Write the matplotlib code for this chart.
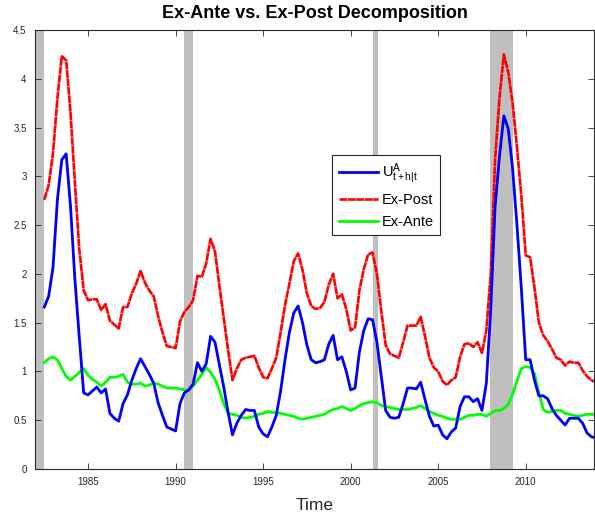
import numpy as np
import matplotlib
matplotlib.use("Agg")
import matplotlib.pyplot as plt

plt.rcParams['font.family'] = ['Liberation Sans', 'DejaVu Sans']
plt.rcParams['mathtext.fontset'] = 'custom'
plt.rcParams['mathtext.rm'] = 'Liberation Sans'
plt.rcParams['mathtext.it'] = 'Liberation Sans'

# quarterly sample, 1982Q3 onward
START_YEAR = 1982.5

ex_post = [2.76, 2.91, 3.24, 3.80, 4.23, 4.19, 3.65, 2.93, 2.25, 1.83,
           1.73, 1.74, 1.74, 1.63, 1.69, 1.52, 1.48, 1.44, 1.66, 1.66,
           1.80, 1.90, 2.03, 1.91, 1.83, 1.77, 1.57, 1.40, 1.26, 1.25,
           1.24, 1.51, 1.61, 1.66, 1.73, 1.98, 1.97, 2.11, 2.36, 2.23,
           1.88, 1.55, 1.22, 0.91, 1.03, 1.12, 1.14, 1.15, 1.16, 1.04,
           0.94, 0.93, 1.03, 1.14, 1.40, 1.68, 1.90, 2.13, 2.21, 2.04,
           1.80, 1.67, 1.64, 1.65, 1.71, 1.89, 2.00, 1.75, 1.79, 1.64,
           1.42, 1.45, 1.83, 2.05, 2.20, 2.22, 2.00, 1.62, 1.27, 1.18,
           1.16, 1.14, 1.30, 1.47, 1.47, 1.47, 1.56, 1.36, 1.14, 1.04,
           1.00, 0.90, 0.86, 0.91, 0.94, 1.15, 1.28, 1.29, 1.25, 1.30,
           1.19, 1.42, 2.00, 3.17, 3.80, 4.25, 4.07, 3.75, 3.30, 2.80,
           2.19, 2.17, 1.86, 1.50, 1.37, 1.31, 1.23, 1.14, 1.12, 1.06,
           1.10, 1.09, 1.09, 1.01, 0.95, 0.91, 0.89]

u_total = [1.66, 1.77, 2.07, 2.76, 3.17, 3.23, 2.69, 1.94, 1.35, 0.78,
           0.76, 0.80, 0.84, 0.78, 0.82, 0.57, 0.52, 0.49, 0.67, 0.76,
           0.91, 1.03, 1.13, 1.05, 0.97, 0.88, 0.68, 0.55, 0.43, 0.41,
           0.39, 0.67, 0.78, 0.81, 0.87, 1.09, 1.00, 1.08, 1.36, 1.30,
           1.07, 0.84, 0.58, 0.35, 0.47, 0.55, 0.61, 0.60, 0.60, 0.43,
           0.36, 0.33, 0.43, 0.55, 0.80, 1.12, 1.40, 1.60, 1.67, 1.50,
           1.27, 1.12, 1.09, 1.10, 1.12, 1.28, 1.37, 1.12, 1.15, 1.00,
           0.81, 0.83, 1.20, 1.42, 1.54, 1.53, 1.30, 0.95, 0.60, 0.53,
           0.52, 0.53, 0.67, 0.83, 0.83, 0.82, 0.89, 0.71, 0.54, 0.44,
           0.45, 0.35, 0.31, 0.38, 0.42, 0.64, 0.74, 0.74, 0.69, 0.72,
           0.60, 0.88, 1.63, 2.69, 3.20, 3.62, 3.49, 3.08, 2.50, 1.85,
           1.12, 1.12, 0.91, 0.75, 0.75, 0.72, 0.62, 0.55, 0.50, 0.45,
           0.52, 0.52, 0.52, 0.47, 0.37, 0.33, 0.32]

ex_ante = [1.09, 1.13, 1.15, 1.12, 1.03, 0.95, 0.91, 0.95, 0.99, 1.03,
           0.96, 0.92, 0.89, 0.85, 0.89, 0.94, 0.94, 0.95, 0.97, 0.89,
           0.87, 0.87, 0.88, 0.85, 0.86, 0.88, 0.87, 0.85, 0.83, 0.83,
           0.83, 0.82, 0.81, 0.81, 0.85, 0.91, 0.97, 1.04, 0.99, 0.92,
           0.81, 0.67, 0.57, 0.56, 0.55, 0.53, 0.52, 0.53, 0.54, 0.56,
           0.57, 0.59, 0.58, 0.58, 0.57, 0.56, 0.55, 0.54, 0.52, 0.51,
           0.52, 0.53, 0.54, 0.55, 0.56, 0.59, 0.61, 0.62, 0.64, 0.62,
           0.60, 0.62, 0.65, 0.67, 0.68, 0.69, 0.68, 0.65, 0.64, 0.63,
           0.62, 0.61, 0.61, 0.61, 0.62, 0.63, 0.65, 0.62, 0.59, 0.57,
           0.55, 0.54, 0.52, 0.51, 0.51, 0.51, 0.53, 0.55, 0.55, 0.56,
           0.56, 0.54, 0.57, 0.60, 0.60, 0.62, 0.66, 0.77, 0.90, 1.03,
           1.05, 1.04, 0.98, 0.78, 0.61, 0.58, 0.59, 0.60, 0.60, 0.57,
           0.56, 0.55, 0.54, 0.55, 0.56, 0.56, 0.56]

# recession bands (start, end)
recessions = [(1981.9, 1982.5), (1990.5, 1991.0), (2001.25, 2001.55), (2007.95, 2009.25)]

time = START_YEAR + 0.25 * np.arange(len(ex_post))

fig = plt.figure(figsize=(5.95, 5.19), dpi=100)
ax = fig.add_axes([35/595, 1-469/519, 559/595, 439/519])

for s, e in recessions:
    ax.axvspan(s, e, color="#bfbfbf", lw=0, zorder=0)

ax.plot(time, u_total, "-", color="#0000ff", lw=2.0, label=r"U$^{A}_{t+h|t}$", zorder=3)
ax.plot(time, ex_post, color="#ff0000", lw=1.9, linestyle=(0, (3, 0.2)), label="Ex-Post", zorder=2)
ax.plot(time, ex_ante, "-", color="#00ff00", lw=2.0, label="Ex-Ante", zorder=2)

ax.set_xlim(1981.97, 2013.9)
ax.set_ylim(0, 4.5)
ax.set_xticks(np.arange(1985, 2011, 5))
ax.set_yticks(np.arange(0, 4.51, 0.5))
ax.set_yticklabels(["0", "0.5", "1", "1.5", "2", "2.5", "3", "3.5", "4", "4.5"])
ax.tick_params(direction="in", top=True, right=True, length=4, width=0.6,
               labelsize=7, colors="#262626", pad=6)
for sp in ax.spines.values():
    sp.set_linewidth(0.8)
    sp.set_color("#262626")

ax.set_title("Ex-Ante vs. Ex-Post Decomposition", fontsize=13, fontweight="bold", pad=9)
ax.set_xlabel("Time", fontsize=12.5, labelpad=8, color="#262626")

leg = ax.legend(loc="upper left", bbox_to_anchor=(332/595, 1-155/519),
                bbox_transform=fig.transFigure, borderaxespad=0, fancybox=False,
                framealpha=1, edgecolor="#262626", fontsize=10.5, handlelength=2.7,
                handletextpad=0.25, labelspacing=0.5, borderpad=0.45)
leg.get_frame().set_linewidth(0.8)

fig.savefig("out.png", dpi=100)
